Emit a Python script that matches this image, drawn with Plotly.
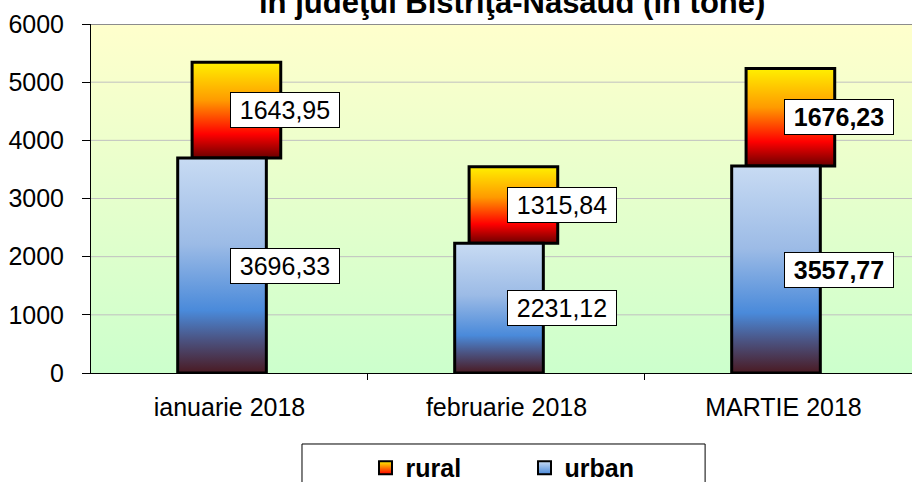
import plotly.graph_objects as go

categories = ["ianuarie 2018", "februarie 2018", "MARTIE 2018"]
urban = [3696.33, 2231.12, 3557.77]
rural = [1643.95, 1315.84, 1676.23]
bold_labels = [False, False, True]
y_ticks = [0, 1000, 2000, 3000, 4000, 5000, 6000]
title_text = "în judeţul Bistriţa-Năsăud (în tone)"

FONT = "Liberation Sans, Arial, sans-serif"
X_MIN, X_MAX = -0.5, 2.464
Y_MAX = 6000

urban_scale = [[0, "#4A1A22"], [0.16, "#4B5585"], [0.29, "#4A8ADA"], [0.6, "#9CBBE6"], [1, "#C8DBF3"]]
rural_scale = [[0, "#6B0000"], [0.25, "#FF0000"], [0.6, "#FF9A00"], [1, "#FFF000"]]


def fmt(v):
    return f"{v:.2f}".replace(".", ",")


fig = go.Figure()

# plot-area background gradient
fig.add_trace(go.Scatter(
    x=[X_MIN, X_MAX, X_MAX, X_MIN, X_MIN], y=[0, 0, Y_MAX, Y_MAX, 0],
    mode="lines", line=dict(width=0), fill="toself",
    fillgradient=dict(type="vertical", colorscale=[[0, "#CCFFCC"], [1, "#FFFFCC"]], start=0, stop=Y_MAX),
    showlegend=False, hoverinfo="skip"))

# gridlines
gx, gy = [], []
for t in y_ticks[1:-1]:
    gx += [X_MIN, X_MAX, None]
    gy += [t, t, None]
fig.add_trace(go.Scatter(x=gx, y=gy, mode="lines", line=dict(color="#C0C0C0", width=1),
                         showlegend=False, hoverinfo="skip"))
fig.add_trace(go.Scatter(x=[X_MIN, X_MAX], y=[Y_MAX, Y_MAX], mode="lines",
                         line=dict(color="#8C8C8C", width=2), showlegend=False, hoverinfo="skip"))

W = 0.32
OFF_U, OFF_R = -0.027, 0.025


def bar(xc, base, top, scale):
    x0, x1 = xc - W / 2, xc + W / 2
    fig.add_trace(go.Scatter(
        x=[x0, x1, x1, x0, x0], y=[base, base, top, top, base],
        mode="lines", line=dict(color="black", width=3), fill="toself",
        fillgradient=dict(type="vertical", colorscale=scale, start=base, stop=top),
        showlegend=False, hoverinfo="skip"))


for i in range(len(categories)):
    bar(i + OFF_R, urban[i], urban[i] + rural[i], rural_scale)
for i in range(len(categories)):
    bar(i + OFF_U, 0, urban[i], urban_scale)

# legend entries
fig.add_trace(go.Scatter(x=[None], y=[None], mode="markers", name="rural",
                         marker=dict(symbol="square", size=13, color="#FFF000",
                                     gradient=dict(type="vertical", color="#FF0000"),
                                     line=dict(color="black", width=2))))
fig.add_trace(go.Scatter(x=[None], y=[None], mode="markers", name="urban",
                         marker=dict(symbol="square", size=13, color="#C8DBF3",
                                     gradient=dict(type="vertical", color="#4A8ADA"),
                                     line=dict(color="black", width=2))))

# value labels
for i in range(len(categories)):
    for base, val in ((urban[i], rural[i]), (0, urban[i])):
        txt = fmt(val)
        if bold_labels[i]:
            txt = f"<b>{txt}</b>"
        fig.add_annotation(x=i + 0.2, y=base + val / 2, xref="x", yref="y", text=txt,
                           showarrow=False, bgcolor="white", bordercolor="black", borderwidth=1,
                           borderpad=3, width=102, font=dict(family=FONT, size=25, color="black"))

# title (partially visible, as in the original)
fig.add_annotation(x=0.5116, y=1.063, xref="paper", yref="paper", text=f"<b>{title_text}</b>",
                   showarrow=False, xanchor="center", yanchor="middle",
                   font=dict(family=FONT, size=31, color="black"))

# legend frame
fig.add_shape(type="rect", xref="paper", yref="paper", x0=0.257, x1=0.748, y0=-0.2034, y1=-0.5,
              line=dict(color="black", width=1), fillcolor="white", layer="below")

fig.update_layout(
    width=912, height=482, autosize=False,
    margin=dict(l=91, r=0, t=24, b=109, autoexpand=False),
    paper_bgcolor="white", plot_bgcolor="white",
    font=dict(family=FONT, size=25, color="black"),
    showlegend=True,
    legend=dict(orientation="h", xref="container", yref="container", x=0.4008, y=0.0768,
                xanchor="left", yanchor="top",
                bgcolor="rgba(0,0,0,0)", borderwidth=0, entrywidth=114, entrywidthmode="pixels",
                font=dict(family=FONT, size=25, color="black", weight="bold")),
    xaxis=dict(range=[X_MIN, X_MAX], tickmode="array", tickvals=list(range(len(categories))),
               ticktext=categories, ticks="", showgrid=False, zeroline=False, automargin=False,
               showline=True, linecolor="black", linewidth=1,
               minor=dict(tickmode="array", tickvals=[0.5, 1.5], ticks="outside", ticklen=6,
                          tickcolor="black", showgrid=False),
               tickfont=dict(family=FONT, size=25, color="black"), ticklabelstandoff=12),
    yaxis=dict(range=[0, Y_MAX], tickmode="array", tickvals=y_ticks, ticks="outside", ticklen=8,
               tickcolor="black", showgrid=False, zeroline=False, showline=True, automargin=False,
               linecolor="black", linewidth=1, ticklabelstandoff=13,
               tickfont=dict(family=FONT, size=25, color="black")),
)

fig.write_html("out.html", config={"displayModeBar": False},
               post_script="document.body.style.margin='0';document.body.style.overflow='hidden';")
